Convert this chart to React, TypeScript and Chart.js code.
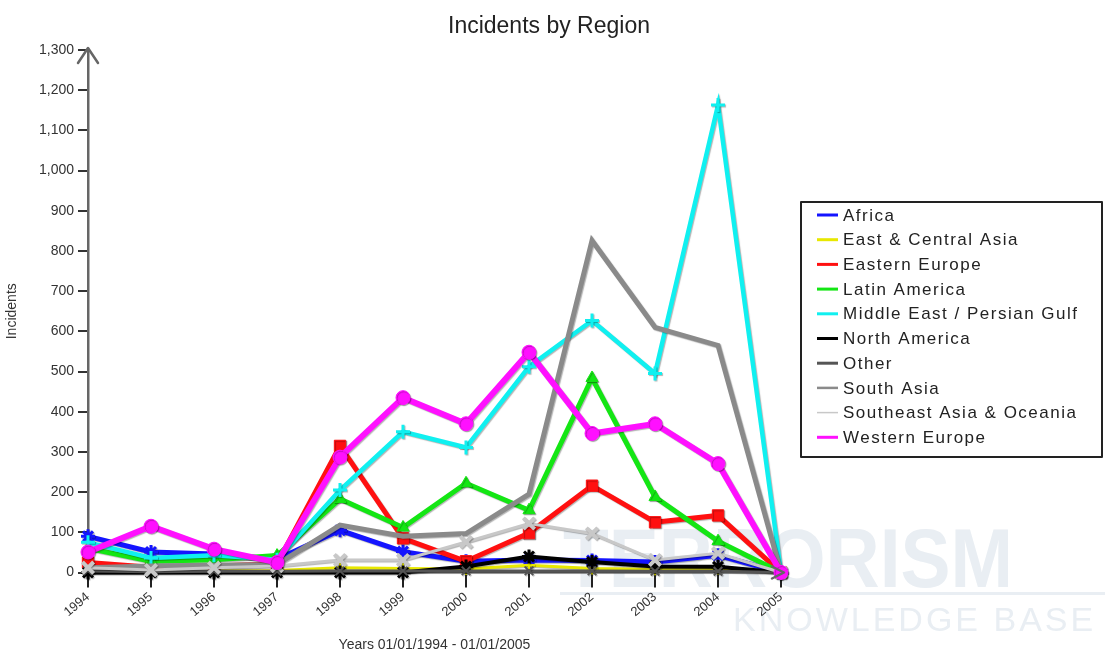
import React, { useEffect, useRef } from 'react';
import { Chart, registerables } from 'chart.js';

Chart.register(...registerables);

const years = ['1994', '1995', '1996', '1997', '1998', '1999', '2000', '2001', '2002', '2003', '2004', '2005'];

const regionNames = [
  'Africa',
  'East & Central Asia',
  'Eastern Europe',
  'Latin America',
  'Middle East / Persian Gulf',
  'North America',
  'Other',
  'South Asia',
  'Southeast Asia & Oceania',
  'Western Europe',
];

const africa = [90, 51, 46, 33, 105, 52, 28, 31, 30, 26, 43, 0];
const eastCentralAsia = [0, 0, 4, 5, 12, 10, 9, 18, 10, 8, 10, 0];
const easternEurope = [25, 13, 16, 22, 315, 85, 28, 98, 216, 125, 142, 0];
const latinAmerica = [60, 28, 32, 42, 183, 112, 222, 155, 484, 188, 78, 0];
const middleEast = [75, 36, 43, 32, 205, 350, 311, 512, 627, 495, 1163, 0];
const northAmerica = [0, 0, 0, 0, 0, 0, 15, 40, 26, 15, 14, 0];
const other = [4, 2, 3, 3, 4, 4, 4, 4, 4, 3, 3, 0];
const southAsia = [12, 16, 18, 20, 118, 90, 97, 195, 826, 610, 565, 0];
const southeastAsia = [12, 6, 12, 16, 31, 31, 76, 122, 97, 31, 48, 0];
const westernEurope = [51, 115, 58, 25, 287, 435, 370, 548, 346, 370, 271, 0];

const seriesValues = [
  africa, eastCentralAsia, easternEurope, latinAmerica, middleEast,
  northAmerica, other, southAsia, southeastAsia, westernEurope,
];

const lineColors = ['#1414ff', '#e8e800', '#ff1010', '#14e614', '#10f0f0', '#000000', '#555555', '#8a8a8a', '#c8c8c8', '#ff10ff'];
const lineWidths = [5, 3, 5, 5, 4.5, 4, 3, 5, 3, 6];
const pointStyles = ['star', 'cross', 'rect', 'triangle', 'cross', 'star', 'crossRot', 'circle', 'crossRot', 'circle'];
const pointRadii = [7, 6, 8, 7, 7, 7, 6, 0, 8, 7];
const pointBorderWidths = [3, 2, 1, 1, 3, 3, 2, 0, 4, 1];
const legendLineWidths = [3, 3, 3, 3, 3, 3, 3, 2.5, 1.5, 3];

const FONT = '"Liberation Sans", Arial, Helvetica, sans-serif';

const decorPlugin = {
  id: 'decor',
  beforeDraw(chart: any) {
    const ctx = chart.ctx as CanvasRenderingContext2D;
    ctx.save();
    ctx.fillStyle = 'rgb(233,238,243)';
    ctx.textBaseline = 'alphabetic';
    ctx.textAlign = 'left';
    ctx.font = `bold 84px ${FONT}`;
    ctx.fillText('TERRORISM', 563, 587, 450);
    ctx.fillRect(560, 592, 545, 3);
    ctx.font = `34px ${FONT}`;
    (ctx as any).letterSpacing = '3px';
    ctx.fillText('KNOWLEDGE BASE', 733, 631);
    ctx.restore();
  },
  beforeDatasetDraw(chart: any) {
    const ctx = chart.ctx as CanvasRenderingContext2D;
    ctx.save();
    ctx.shadowColor = 'rgba(0,0,0,0.3)';
    ctx.shadowOffsetX = 1;
    ctx.shadowOffsetY = 1;
    ctx.shadowBlur = 1;
  },
  afterDatasetDraw(chart: any) {
    chart.ctx.restore();
  },
  afterDraw(chart: any) {
    const ctx = chart.ctx as CanvasRenderingContext2D;
    const area = chart.chartArea;
    ctx.save();
    // title
    ctx.fillStyle = '#222';
    ctx.font = `23px ${FONT}`;
    ctx.textAlign = 'center';
    ctx.textBaseline = 'alphabetic';
    ctx.fillText('Incidents by Region', 549, 33);

    // axis arrows
    ctx.strokeStyle = '#666';
    ctx.lineWidth = 2.5;
    ctx.lineCap = 'round';
    ctx.lineJoin = 'round';
    ctx.beginPath();
    ctx.moveTo(area.left - 10, area.top + 13);
    ctx.lineTo(area.left, area.top - 2);
    ctx.lineTo(area.left + 10, area.top + 13);
    ctx.stroke();
    ctx.beginPath();
    ctx.moveTo(area.right - 9, area.bottom - 6);
    ctx.lineTo(area.right + 3, area.bottom);
    ctx.lineTo(area.right - 9, area.bottom + 6);
    ctx.stroke();

    // legend
    const bx = 801, by = 202, bw = 301, bh = 255;
    ctx.strokeStyle = '#222';
    ctx.lineWidth = 2;
    ctx.lineCap = 'butt';
    ctx.strokeRect(bx, by, bw, bh);
    ctx.font = `17px ${FONT}`;
    (ctx as any).letterSpacing = '1.5px';
    ctx.textAlign = 'left';
    ctx.textBaseline = 'middle';
    chart.data.datasets.forEach((ds: any, i: number) => {
      const y = 215 + i * 24.7;
      ctx.strokeStyle = ds.borderColor;
      ctx.lineWidth = legendLineWidths[i];
      ctx.beginPath();
      ctx.moveTo(817, y);
      ctx.lineTo(838, y);
      ctx.stroke();
      ctx.fillStyle = '#222';
      ctx.fillText(ds.label, 843, y + 1);
    });
    ctx.restore();
  },
};

export default function App() {
  const canvasRef = useRef<HTMLCanvasElement | null>(null);

  useEffect(() => {
    document.body.style.margin = '0';
    const canvas = canvasRef.current;
    if (!canvas) return;
    const n = regionNames.length;
    const datasets = regionNames.map((name, i) => ({
      label: name,
      data: seriesValues[i],
      borderColor: lineColors[i],
      backgroundColor: lineColors[i],
      borderWidth: lineWidths[i],
      pointStyle: pointStyles[i] as any,
      pointRadius: pointRadii[i],
      pointHoverRadius: pointRadii[i],
      pointBorderWidth: pointBorderWidths[i],
      pointBorderColor: lineColors[i],
      pointBackgroundColor: lineColors[i],
      tension: 0,
      fill: false,
      clip: false as any,
      order: n - 1 - i,
    }));

    const chart = new Chart(canvas, {
      type: 'line',
      data: { labels: years, datasets },
      plugins: [decorPlugin],
      options: {
        responsive: false,
        animation: false,
        devicePixelRatio: 1,
        layout: { padding: { top: 50, right: 324, left: 0, bottom: 0 } },
        plugins: {
          legend: { display: false },
          title: { display: false },
          tooltip: { enabled: false },
        },
        scales: {
          x: {
            type: 'category',
            offset: false,
            grid: {
              display: true,
              drawOnChartArea: false,
              drawTicks: true,
              tickLength: 15,
              color: '#222',
              lineWidth: 2,
            },
            border: { display: true, color: '#666', width: 2.5 },
            ticks: {
              autoSkip: false,
              minRotation: 40,
              maxRotation: 40,
              padding: 2,
              color: '#333',
              font: { family: FONT, size: 13 },
            },
            title: {
              display: true,
              text: 'Years 01/01/1994 - 01/01/2005',
              color: '#333',
              font: { family: FONT, size: 14 },
              padding: { top: 0, bottom: 2 },
            },
            afterFit(scale: any) {
              scale.height = 83.5;
            },
          },
          y: {
            min: 0,
            max: 1300,
            grid: {
              display: true,
              drawOnChartArea: false,
              drawTicks: true,
              tickLength: 10,
              color: '#333',
              lineWidth: 2,
            },
            border: { display: true, color: '#666', width: 2.5 },
            ticks: {
              stepSize: 100,
              padding: 4,
              color: '#333',
              font: { family: FONT, size: 14 },
            },
            title: {
              display: true,
              text: 'Incidents',
              color: '#333',
              font: { family: FONT, size: 14 },
              padding: { top: 4, bottom: 0 },
            },
            afterFit(scale: any) {
              scale.width = 88;
            },
          },
        },
      },
    });
    return () => chart.destroy();
  }, []);

  return (
    <div style={{ width: 1105, height: 656 }}>
      <canvas ref={canvasRef} width={1105} height={656} style={{ display: 'block' }} />
    </div>
  );
}
